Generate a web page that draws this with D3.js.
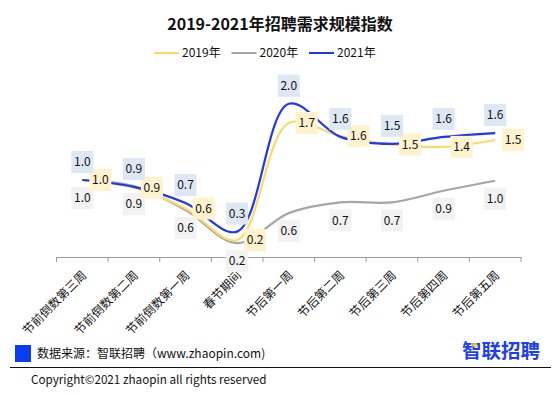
<!DOCTYPE html>
<html>
<head>
<meta charset="utf-8">
<script src="https://cdn.jsdelivr.net/npm/d3@7"></script>
<style>
  body { margin: 0; background: #fff; }
  text { font-family: "Noto Sans CJK SC", "Noto Sans", sans-serif; }
</style>
</head>
<body>
<svg width="560" height="396"></svg>
<script>
// categories and series
var weeks = ["节前倒数第三周", "节前倒数第二周", "节前倒数第一周", "春节期间", "节后第一周",
             "节后第二周", "节后第三周", "节后第四周", "节后第五周"];
var y2019 = [1.0, 0.9, 0.63, 0.22, 1.74, 1.57, 1.46, 1.43, 1.52];
var y2020 = [1.0, 0.92, 0.61, 0.18, 0.57, 0.71, 0.71, 0.86, 0.99];
var y2021 = [1.0, 0.91, 0.7, 0.33, 1.99, 1.56, 1.47, 1.56, 1.61];
var years = ["2019年", "2020年", "2021年"];

var svg = d3.select("svg"),
    width = +svg.attr("width");

var colors = { "2019年": "#ffd966", "2020年": "#a6a6a6", "2021年": "#1f37f2" };
var boxFill = { "2019年": "#fff2cc", "2020年": "#f2f2f2", "2021年": "#dde8f4" };

var x = d3.scaleBand().domain(weeks).range([56.5, 521]);
var y = d3.scaleLinear().domain([0, 2.5]).range([257, 64.5]);

// title
svg.append("text")
    .attr("x", width / 2).attr("y", 30)
    .attr("text-anchor", "middle")
    .attr("font-size", 16).attr("font-weight", "bold")
    .attr("fill", "#111")
    .text("2019-2021年招聘需求规模指数");

// legend
var legend = svg.append("g").selectAll("g")
    .data(years).enter().append("g")
    .attr("transform", function(d, i) { return "translate(" + (154 + i * 77.5) + ",53)"; });
legend.append("line")
    .attr("x1", 0).attr("x2", 25)
    .attr("stroke", function(d) { return colors[d]; })
    .attr("stroke-width", 2);
legend.append("text")
    .attr("x", 28).attr("dy", "0.35em")
    .attr("font-size", 12).attr("fill", "#111")
    .text(function(d) { return d; });

// x axis
var xAxis = svg.append("g")
    .attr("transform", "translate(0,257)")
    .call(d3.axisBottom(x).tickSize(0).tickFormat(""));
xAxis.select(".domain").attr("stroke", "#999");
xAxis.selectAll(".tk")
    .data(d3.range(weeks.length + 1)).enter().append("line")
    .attr("x1", function(i) { return x.range()[0] + i * x.bandwidth(); })
    .attr("x2", function(i) { return x.range()[0] + i * x.bandwidth(); })
    .attr("y1", 0).attr("y2", 5)
    .attr("stroke", "#999");
svg.append("g").selectAll("text")
    .data(weeks).enter().append("text")
    .attr("transform", function(d) {
      return "translate(" + (x(d) + x.bandwidth() / 2 + 2) + ",273) rotate(-45)";
    })
    .attr("text-anchor", "end")
    .attr("dy", "0.35em")
    .attr("font-size", 12).attr("fill", "#111")
    .text(function(d) { return d; });

// lines
var series = [
  { name: "2020年", values: y2020, pos: "below" },
  { name: "2019年", values: y2019, pos: "right" },
  { name: "2021年", values: y2021, pos: "above" }
];

var line = d3.line()
    .x(function(d, i) { return x(weeks[i]) + x.bandwidth() / 2; })
    .y(function(d) { return y(d); })
    .curve(d3.curveCatmullRom.alpha(0.5));

svg.append("g").selectAll("path")
    .data(series).enter().append("path")
    .attr("d", function(s) { return line(s.values); })
    .attr("fill", "none")
    .attr("stroke", function(s) { return colors[s.name]; })
    .attr("stroke-width", 2.2);

// data labels
series.forEach(function(s) {
  var g = svg.append("g").selectAll("g")
      .data(s.values).enter().append("g")
      .attr("transform", function(d, i) {
        var cx = x(weeks[i]) + x.bandwidth() / 2, cy = y(d);
        if (s.pos === "above") cy -= 18;
        if (s.pos === "below") cy += 18;
        if (s.pos === "right") cx += 18;
        return "translate(" + cx + "," + cy + ")";
      });
  g.append("rect")
      .attr("x", -11).attr("y", -11)
      .attr("width", 22).attr("height", 22)
      .attr("fill", boxFill[s.name]);
  g.append("text")
      .attr("text-anchor", "middle").attr("dy", "0.35em")
      .attr("font-size", 12).attr("fill", "#111")
      .text(function(d) { return d3.format(".1f")(d); });
});

// footer
svg.append("rect").attr("x", 15).attr("y", 345).attr("width", 16).attr("height", 17).attr("fill", "#0a3cf0");
svg.append("text")
    .attr("x", 37).attr("y", 354).attr("dy", "0.35em")
    .attr("font-size", 12).attr("fill", "#111")
    .text("数据来源：智联招聘（www.zhaopin.com)");
svg.append("text")
    .attr("x", 540).attr("y", 351).attr("dy", "0.35em")
    .attr("text-anchor", "end")
    .attr("font-size", 19.5).attr("font-weight", "bold")
    .attr("fill", "#1d3ff0")
    .text("智联招聘");
svg.append("circle").attr("cx", 475).attr("cy", 345).attr("r", 2.3).attr("fill", "#ffc61a");
svg.append("line")
    .attr("x1", 10).attr("x2", 551).attr("y1", 367.5).attr("y2", 367.5)
    .attr("stroke", "#111");
svg.append("text")
    .attr("x", 31).attr("y", 380).attr("dy", "0.35em")
    .attr("font-size", 11.7).attr("fill", "#111")
    .text("Copyright©2021 zhaopin all rights reserved");
</script>
</body>
</html>
